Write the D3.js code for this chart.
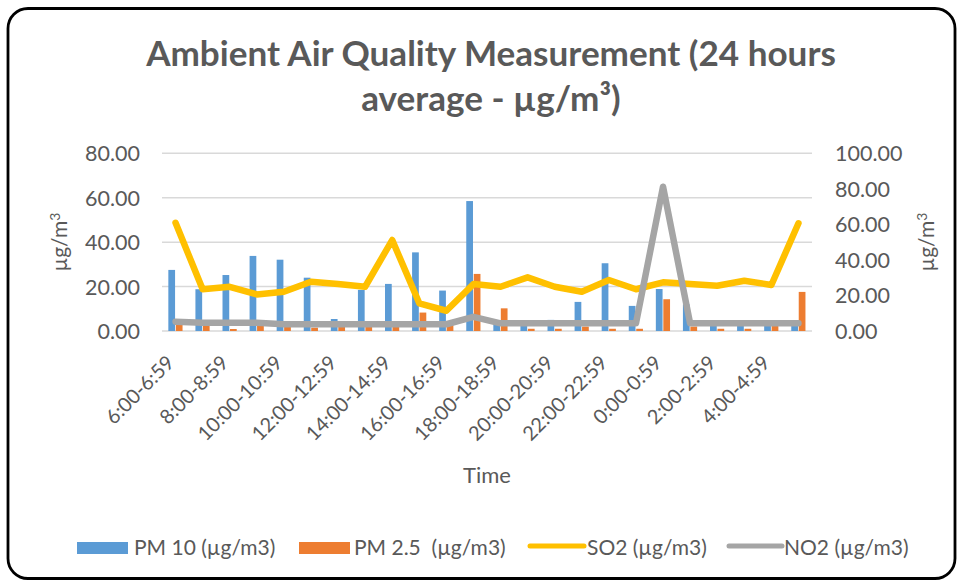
<!DOCTYPE html>
<html>
<head>
<meta charset="utf-8">
<script src="https://cdn.jsdelivr.net/npm/d3@7"></script>
<style>
  html, body { margin: 0; padding: 0; background: #fff; }
  svg { display: block; }
  text { font-family: Lato, "Open Sans", sans-serif; fill: #595959; }
</style>
</head>
<body>
<svg id="chart" width="960" height="582"></svg>
<script>
// ---------------- DATA ----------------
const categories = ["6:00-6:59","7:00-7:59","8:00-8:59","9:00-9:59","10:00-10:59","11:00-11:59",
  "12:00-12:59","13:00-13:59","14:00-14:59","15:00-15:59","16:00-16:59","17:00-17:59",
  "18:00-18:59","19:00-19:59","20:00-20:59","21:00-21:59","22:00-22:59","23:00-23:59",
  "0:00-0:59","1:00-1:59","2:00-2:59","3:00-3:59","4:00-4:59","5:00-5:59"];
const tickLabels = ["6:00-6:59","8:00-8:59","10:00-10:59","12:00-12:59","14:00-14:59","16:00-16:59",
  "18:00-18:59","20:00-20:59","22:00-22:59","0:00-0:59","2:00-2:59","4:00-4:59"];
const pm10 = [27.5,18.8,25.2,33.8,32.1,24.0,5.4,18.5,21.2,35.4,18.2,58.5,3,3,5.0,13.1,30.5,11.3,18.9,12,3,3,3,3];
const pm25 = [3,3,0.9,3,2,1.5,2,2,2,8.3,3,25.7,10.2,1,1,2,1,1,14.3,2,1,1,3,17.6];
const so2  = [60.9,23.5,24.9,20.6,22.1,27.7,26.4,24.9,51.2,15.6,11.4,26.4,24.9,30.2,24.9,22.1,28.7,23.5,27.4,26.4,25.5,28.3,25.9,60.6];
const no2  = [5.2,4.6,4.6,4.6,3.8,3.8,3.8,3.8,3.8,3.8,3.8,8.0,4.3,4.3,4.3,4.3,4.3,4.3,81.2,4.3,4.3,4.3,4.3,4.3];
const leftTicks = [0,20,40,60,80];
const rightTicks = [0,20,40,60,80,100];
const titleLines = ["Ambient Air Quality Measurement (24 hours", "average - µg/m³)"];
const seriesNames = ["PM 10 (µg/m3)", "PM 2.5  (µg/m3)", "SO2 (µg/m3)", "NO2 (µg/m3)"];
const colors = {pm10:"#5B9BD5", pm25:"#ED7D31", so2:"#FFC000", no2:"#A5A5A5"};

// ---------------- LAYOUT ----------------
const svg = d3.select("#chart");
const plot = {left:162, right:812, top:153.3, bottom:331};

// border
svg.append("rect").attr("x",8).attr("y",8.5).attr("width",947).attr("height",570)
  .attr("rx",20).attr("ry",20).attr("fill","#fff").attr("stroke","#000").attr("stroke-width",2.8);

// title
const title = svg.append("g");
titleLines.forEach((t,i)=>{
  title.append("text").attr("x",491).attr("y", i===0 ? 66 : 111)
    .attr("text-anchor","middle").style("font-weight","bold").style("font-size","30px")
    .text(t);
});
{
  const t0 = title.select("text").node();
  const w = t0.getComputedTextLength();
  const fs = 30*690/w;
  title.selectAll("text").style("font-size", fs.toFixed(2)+"px");
}

const x = d3.scaleBand().domain(categories).range([plot.left, plot.right]).paddingInner(0).paddingOuter(0);
const yL = d3.scaleLinear().domain([0,80]).range([plot.bottom, plot.top]);
const yR = d3.scaleLinear().domain([0,100]).range([plot.bottom, plot.top]);
const bw = x.bandwidth();
const x1 = d3.scaleBand().domain(["pm10","pm25"]).range([-7.2, 7.0]).paddingInner(0.1);

// gridlines
svg.append("g").selectAll("line").data(leftTicks).join("line")
  .attr("x1",plot.left).attr("x2",plot.right)
  .attr("y1",d=>yL(d)).attr("y2",d=>yL(d))
  .attr("stroke","#D9D9D9").attr("stroke-width",1.5);

// left axis
const gl = svg.append("g").attr("transform",`translate(${plot.left},0)`)
  .call(d3.axisLeft(yL).tickValues(leftTicks).tickFormat(d3.format(".2f")).tickSize(0).tickPadding(22));
gl.select(".domain").remove();
gl.selectAll("text").style("font-size","21.5px").style("fill","#595959").attr("dy","0.35em");

// right axis
const gr = svg.append("g").attr("transform",`translate(${plot.right},0)`)
  .call(d3.axisRight(yR).tickValues(rightTicks).tickFormat(d3.format(".2f")).tickSize(0).tickPadding(23));
gr.select(".domain").remove();
gr.selectAll("text").style("font-size","21.5px").style("fill","#595959").attr("dy","0.35em");

// bars
const bars = svg.append("g");
categories.forEach((c,i)=>{
  const cx = x(c) + bw/2;
  bars.append("rect").attr("x", cx + x1("pm10")).attr("width", x1.bandwidth())
    .attr("y", yL(pm10[i])).attr("height", yL(0)-yL(pm10[i])).attr("fill", colors.pm10);
  bars.append("rect").attr("x", cx + x1("pm25")).attr("width", x1.bandwidth())
    .attr("y", yL(pm25[i])).attr("height", yL(0)-yL(pm25[i])).attr("fill", colors.pm25);
});

// lines
const lineGen = d3.line().x((d,i)=>x(categories[i])+bw/2).y(d=>yR(d));
svg.append("path").datum(so2).attr("d", lineGen).attr("fill","none")
  .attr("stroke", colors.so2).attr("stroke-width",6.5).attr("stroke-linejoin","round").attr("stroke-linecap","round");
svg.append("path").datum(no2).attr("d", lineGen).attr("fill","none")
  .attr("stroke", colors.no2).attr("stroke-width",6.5).attr("stroke-linejoin","round").attr("stroke-linecap","round");

// x tick labels
const gx = svg.append("g");
tickLabels.forEach(t=>{
  const cx = x(t) + bw/2;
  gx.append("text").attr("transform",`translate(${cx-5},359) rotate(-45)`)
    .attr("text-anchor","end").attr("dy","0.35em").style("font-size","20px").text(t);
});

// axis titles
function unitLabel(px, py){
  const t = svg.append("text").attr("transform",`translate(${px},${py}) rotate(-90)`)
    .attr("text-anchor","middle").attr("dy","0.35em").style("font-size","21px");
  t.append("tspan").text("µg/m");
  t.append("tspan").attr("dy","-0.55em").style("font-size","14px").text("3");
}
unitLabel(60, 242);
unitLabel(927, 242);

svg.append("text").attr("x",487).attr("y",483).attr("text-anchor","middle").style("font-size","22px").text("Time");

// legend
const leg = svg.append("g");
const ly = 548;
const lfs = "21px";
leg.append("rect").attr("x",77).attr("y",ly-6).attr("width",51).attr("height",12).attr("fill",colors.pm10);
leg.append("text").attr("x",134).attr("y",ly).attr("dy","0.35em").style("font-size",lfs).text(seriesNames[0]);
leg.append("rect").attr("x",299).attr("y",ly-6).attr("width",51).attr("height",12).attr("fill",colors.pm25);
leg.append("text").attr("x",354).attr("y",ly).attr("dy","0.35em").style("font-size",lfs).attr("xml:space","preserve").style("white-space","pre").text(seriesNames[1]);
leg.append("line").attr("x1",530).attr("x2",584).attr("y1",ly-2).attr("y2",ly-2).attr("stroke",colors.so2).attr("stroke-width",5).attr("stroke-linecap","round");
leg.append("text").attr("x",587).attr("y",ly).attr("dy","0.35em").style("font-size",lfs).text(seriesNames[2]);
leg.append("line").attr("x1",729).attr("x2",782).attr("y1",ly-2).attr("y2",ly-2).attr("stroke",colors.no2).attr("stroke-width",5).attr("stroke-linecap","round");
leg.append("text").attr("x",784).attr("y",ly).attr("dy","0.35em").style("font-size",lfs).text(seriesNames[3]);
</script>
</body>
</html>
